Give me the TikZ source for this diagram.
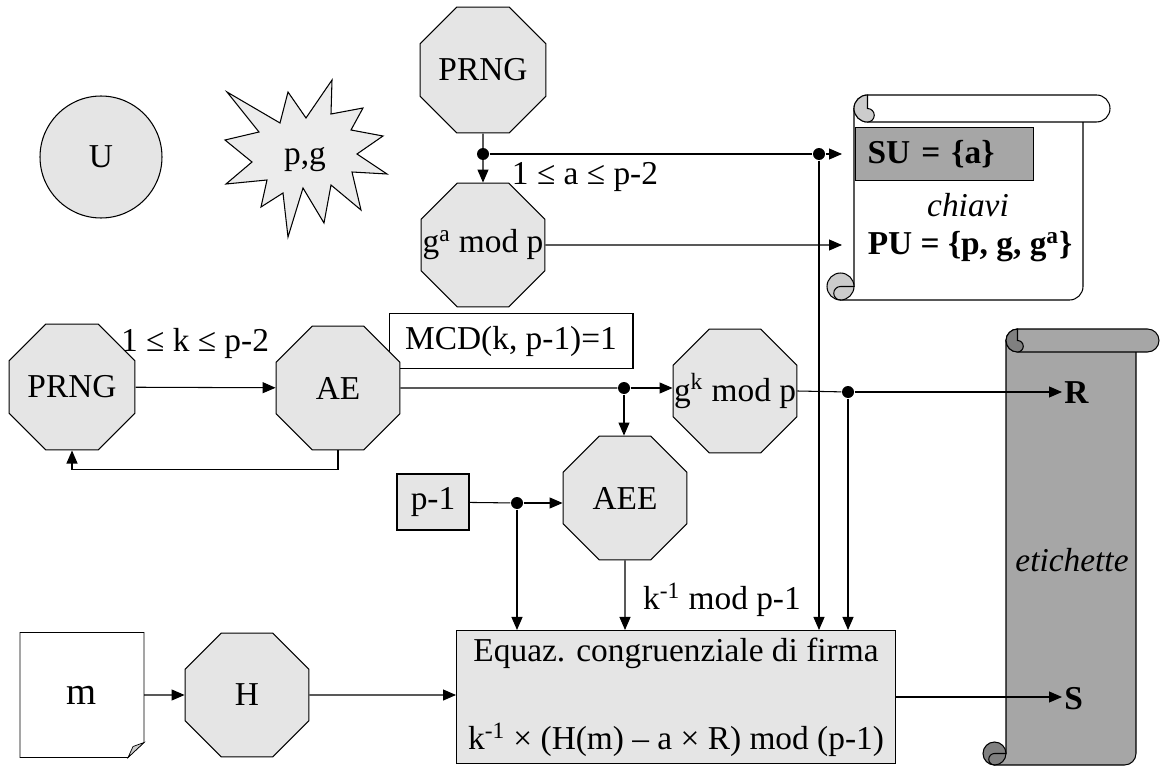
\documentclass[tikz,border=0pt]{standalone}
\usepackage{fontspec}
\setmainfont{Liberation Serif}
\usetikzlibrary{arrows.meta, positioning, shapes.geometric, backgrounds}
\definecolor{octgray}{RGB}{229,229,229}
\definecolor{stargray}{RGB}{236,236,236}
\definecolor{keygray}{RGB}{166,166,166}
\definecolor{curlgray}{RGB}{204,204,204}
\definecolor{curldark}{RGB}{128,128,128}

% text that may run over the octagon border
\newcommand{\octext}[1]{\makebox[0pt]{#1}}

% scroll: left, top, right, bottom, roll height, body fill, curl fill
\newcommand{\vscroll}[7]{%
  \draw[fill=#6] ({#1+#5},{#2+#5/2}) -- ({#1+#5},{#4-#5/2}) -- ({#1+#5/2},{#4-#5/2})
    -- ({#1+#5/2},#4) -- ({#3-1.5*#5},#4) arc[start angle=-90, end angle=0, radius={#5*0.01cm}]
    -- ({#3-#5},{#2+#5/2}) -- cycle;
  \draw[fill=#6] ({#1+1.5*#5},#2) -- ({#3-#5/2},#2) arc[start angle=90, end angle=-90, radius={#5*0.01cm}]
    -- ({#1+1.5*#5},{#2+#5}) arc[start angle=270, end angle=90, radius={#5*0.01cm}] -- cycle;
  \draw[fill=#7] ({#1+1.5*#5},{#2+#5/2}) arc[start angle=90, end angle=-90, radius={#5*0.005cm}]
    arc[start angle=270, end angle=90, radius={#5*0.01cm}] -- cycle;
  \draw[fill=#7] ({#1+#5/2},{#4-#5/2}) circle[radius={#5*0.01cm}];
  \draw ({#1+#5},{#4-#5/2}) -- ({#1+#5/2},{#4-#5/2}) arc[start angle=90, end angle=270, radius={#5*0.005cm}];
}

\begin{document}
\begin{tikzpicture}[
  x=0.02cm, y=-0.02cm,
  font=\fontsize{19}{23}\selectfont,
  line width=0.6pt,
  >={Triangle[length=0.26cm, width=0.22cm]},
  oct/.style={regular polygon, regular polygon sides=8, draw, fill=octgray,
              minimum size=2.68cm, inner sep=0pt},
  tagbox/.style={draw, fill=#1, inner sep=0pt},
  dot/.style={circle, fill, inner sep=0pt, minimum size=0.24cm},
  lab/.style={inner sep=1pt},
  flow/.style={->}
]
\useasboundingbox (0,0) rectangle (1160,767);

% ---- Scrolls ----
\vscroll{827}{95}{1110}{300}{27}{white}{curlgray}
\vscroll{983}{329}{1159}{765}{23}{keygray}{curldark}

\node[tagbox=keygray, anchor=west, text width=3.08cm, inner xsep=0.24cm,
      minimum height=1.06cm, align=left] (su) at (855,154) {\bfseries SU = \{a\}};
\node[lab, font=\fontsize{19}{23}\selectfont\itshape] (chiavi) at (968,205) {chiavi};
\node[lab, font=\fontsize{19}{23}\selectfont\bfseries] (pu) at (970,247) {PU = \{p, g, g\textsuperscript{a}\}};
\node[lab, font=\fontsize{19}{23}\selectfont\itshape] (etich) at (1072,560) {etichette};
\node[lab, font=\fontsize{19}{23}\selectfont\bfseries, anchor=west] (rtxt) at (1062,393) {R};
\node[lab, font=\fontsize{19}{23}\selectfont\bfseries, anchor=west] (stxt) at (1062,699) {S};
\coordinate (kin1) at (842,154);
\coordinate (kin2) at (842,245);

% ---- Top row ----
\node[circle, draw, fill=octgray, minimum size=2.44cm] (u) at (101,157) {U};
\draw[fill=stargray] (227,92) -- (280,123) -- (288,92) -- (306,118) -- (332,80) -- (331,114)
  -- (363,108) -- (351,130) -- (383,136) -- (357,154) -- (387,174) -- (352,172) -- (361,210)
  -- (331,185) -- (324,223) -- (303,188) -- (288,237) -- (283,193) -- (261,207) -- (267,180)
  -- (226,184) -- (252,162) -- (225,140) -- (259,132) -- cycle;
\node[lab] (pg) at (305,160) {p,g};

\node[oct] (prnga) at (483,70) {PRNG};
\node[oct] (ga) at (483,245) {\octext{g\textsuperscript{a} mod p}};
\node[dot] (ja) at (483,154) {};
\node[dot] (jb) at (819,154) {};
\node[lab] (arange) at (585,177) {1 ≤ a ≤ p-2};

% ---- Middle row ----
\node[tagbox=white, minimum width=4.88cm, minimum height=1.1cm] (mcd) at (511,341) {MCD(k, p-1)=1};
\node[oct] (prngk) at (72,387) {PRNG};
\node[oct] (ae) at (338,388) {AE};
\node[lab] (krange) at (195,343) {1 ≤ k ≤ p-2};
\node[oct] (gk) at (735,391) {\octext{g\textsuperscript{k} mod p}};
\node[dot] (jc) at (624,388) {};
\node[dot] (je) at (848,392) {};
\node[oct] (aee) at (625,498) {AEE};
\node[tagbox=octgray, minimum width=1.44cm, minimum height=1.12cm] (pm1) at (433,502) {p-1};
\node[dot] (jd) at (517,503) {};

% ---- Bottom row ----
\node[minimum width=2.46cm, minimum height=2.48cm, font=\fontsize{22}{26}\selectfont] (m) at (82,695) {m};
\node[oct] (h) at (247,695) {H};
\node[tagbox=octgray, minimum width=8.78cm, minimum height=2.66cm, align=center] (eq) at (676,697)
  {Equaz. congruenziale di firma\\[0.95cm] k\textsuperscript{-1} × (H(m) – a × R) mod (p-1)};
\node[lab] (kinv) at (722,600) {k\textsuperscript{-1} mod p-1};

\begin{scope}[on background layer]
  \draw[fill=white] (m.north west) -- (m.north east) -- ([yshift=0.3cm]m.south east)
    -- ([xshift=-0.32cm]m.south east) -- (m.south west) -- cycle;
  \draw[fill=curlgray] ([yshift=0.3cm]m.south east) -- ([xshift=-0.32cm]m.south east)
    -- ([xshift=-0.22cm, yshift=0.22cm]m.south east) -- cycle;
\end{scope}

% ---- Connectors ----
\draw[flow] (prnga) -- (ga);
\draw (ja) -- (jb);
\draw[flow] (jb) -- (kin1);
\draw[flow] (ga.east) -- (kin2);
\draw[flow] (jb) -- (jb |- eq.north);

\draw[flow] (prngk) -- (ae);
\draw[flow] (ae.south) -- ++(0,19) -| (prngk.south);
\draw (ae) -- (jc);
\draw[flow] (jc) -- (jc -| gk.west);
\draw[flow] (jc) -- (jc |- aee.north);
\draw (gk.east) -- (je);
\draw[flow] (je) -- (je -| rtxt.west);
\draw[flow] (je) -- (je |- eq.north);

\draw (pm1) -- (jd);
\draw[flow] (jd) -- (jd -| aee.west);
\draw[flow] (jd) -- (jd |- eq.north);
\draw[flow] (aee) -- (aee |- eq.north);

\draw[flow] (m) -- (h);
\draw[flow] (h) -- (h -| eq.west);
\draw[flow] (eq.east) -- (eq.east -| stxt.west);

\end{tikzpicture}
\end{document}
